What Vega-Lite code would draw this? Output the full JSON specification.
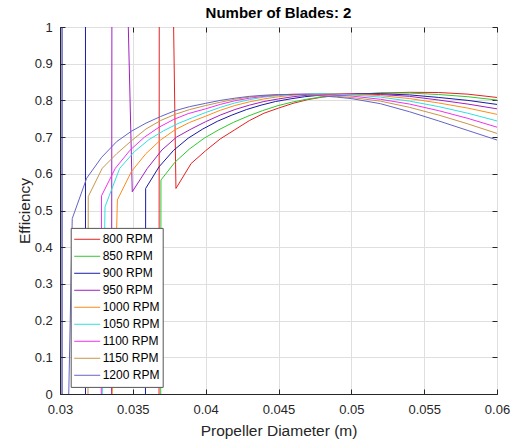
{
"$schema": "https://vega.github.io/schema/vega-lite/v6.json",
"width": 437, "height": 367,
"autosize": {"type": "none"},
"padding": {"left": 60, "top": 27, "right": 20, "bottom": 53},
"background": "white",
"title": {"text": "Number of Blades: 2", "fontSize": 15, "fontWeight": "bold", "font": "Liberation Sans", "color": "#000000", "anchor": "middle", "offset": 0.5},
"config": {"view": {"stroke": "#262626", "strokeWidth": 1}, "font": "Liberation Sans"},
"data": {"values": [
{"rpm":"800 RPM","x":0.0358,"y":-70},{"rpm":"800 RPM","x":0.03685,"y":3.6},{"rpm":"800 RPM","x":0.03796,"y":0.56},{"rpm":"800 RPM","x":0.039,"y":0.628},{"rpm":"800 RPM","x":0.04,"y":0.663},{"rpm":"800 RPM","x":0.041,"y":0.695},{"rpm":"800 RPM","x":0.042,"y":0.72},{"rpm":"800 RPM","x":0.043,"y":0.745},{"rpm":"800 RPM","x":0.044,"y":0.765},{"rpm":"800 RPM","x":0.045,"y":0.779},{"rpm":"800 RPM","x":0.046,"y":0.792},{"rpm":"800 RPM","x":0.047,"y":0.802},{"rpm":"800 RPM","x":0.048,"y":0.809},{"rpm":"800 RPM","x":0.049,"y":0.813},{"rpm":"800 RPM","x":0.05,"y":0.816},{"rpm":"800 RPM","x":0.052,"y":0.82},{"rpm":"800 RPM","x":0.054,"y":0.822},{"rpm":"800 RPM","x":0.056,"y":0.8215},{"rpm":"800 RPM","x":0.058,"y":0.817},{"rpm":"800 RPM","x":0.06,"y":0.808},
{"rpm":"850 RPM","x":0.0359,"y":-40},{"rpm":"850 RPM","x":0.03693,"y":0.583},{"rpm":"850 RPM","x":0.0379,"y":0.632},{"rpm":"850 RPM","x":0.0389,"y":0.668},{"rpm":"850 RPM","x":0.0399,"y":0.697},{"rpm":"850 RPM","x":0.0409,"y":0.72},{"rpm":"850 RPM","x":0.0419,"y":0.74},{"rpm":"850 RPM","x":0.0429,"y":0.757},{"rpm":"850 RPM","x":0.0439,"y":0.772},{"rpm":"850 RPM","x":0.0449,"y":0.785},{"rpm":"850 RPM","x":0.0459,"y":0.795},{"rpm":"850 RPM","x":0.0469,"y":0.803},{"rpm":"850 RPM","x":0.0479,"y":0.809},{"rpm":"850 RPM","x":0.0489,"y":0.813},{"rpm":"850 RPM","x":0.05,"y":0.817},{"rpm":"850 RPM","x":0.052,"y":0.82},{"rpm":"850 RPM","x":0.054,"y":0.82},{"rpm":"850 RPM","x":0.056,"y":0.816},{"rpm":"850 RPM","x":0.058,"y":0.81},{"rpm":"850 RPM","x":0.06,"y":0.801},
{"rpm":"900 RPM","x":0.0301,"y":-50},{"rpm":"900 RPM","x":0.03018,"y":50},{"rpm":"900 RPM","x":0.03171,"y":50},{"rpm":"900 RPM","x":0.03179,"y":-50},{"rpm":"900 RPM","x":0.0349,"y":-40},{"rpm":"900 RPM","x":0.03588,"y":0.56},{"rpm":"900 RPM","x":0.0368,"y":0.619},{"rpm":"900 RPM","x":0.0378,"y":0.664},{"rpm":"900 RPM","x":0.0388,"y":0.697},{"rpm":"900 RPM","x":0.0398,"y":0.722},{"rpm":"900 RPM","x":0.0408,"y":0.743},{"rpm":"900 RPM","x":0.0418,"y":0.76},{"rpm":"900 RPM","x":0.0428,"y":0.775},{"rpm":"900 RPM","x":0.0438,"y":0.787},{"rpm":"900 RPM","x":0.0448,"y":0.797},{"rpm":"900 RPM","x":0.0458,"y":0.804},{"rpm":"900 RPM","x":0.0468,"y":0.81},{"rpm":"900 RPM","x":0.0478,"y":0.814},{"rpm":"900 RPM","x":0.049,"y":0.817},{"rpm":"900 RPM","x":0.05,"y":0.818},{"rpm":"900 RPM","x":0.052,"y":0.818},{"rpm":"900 RPM","x":0.054,"y":0.815},{"rpm":"900 RPM","x":0.056,"y":0.808},{"rpm":"900 RPM","x":0.058,"y":0.8},{"rpm":"900 RPM","x":0.06,"y":0.789},
{"rpm":"950 RPM","x":0.0326,"y":-44},{"rpm":"950 RPM","x":0.0336,"y":2.81},{"rpm":"950 RPM","x":0.03496,"y":0.551},{"rpm":"950 RPM","x":0.036,"y":0.615},{"rpm":"950 RPM","x":0.037,"y":0.665},{"rpm":"950 RPM","x":0.038,"y":0.7},{"rpm":"950 RPM","x":0.039,"y":0.722},{"rpm":"950 RPM","x":0.04,"y":0.742},{"rpm":"950 RPM","x":0.041,"y":0.76},{"rpm":"950 RPM","x":0.042,"y":0.775},{"rpm":"950 RPM","x":0.043,"y":0.787},{"rpm":"950 RPM","x":0.044,"y":0.797},{"rpm":"950 RPM","x":0.045,"y":0.804},{"rpm":"950 RPM","x":0.046,"y":0.81},{"rpm":"950 RPM","x":0.047,"y":0.814},{"rpm":"950 RPM","x":0.048,"y":0.817},{"rpm":"950 RPM","x":0.049,"y":0.818},{"rpm":"950 RPM","x":0.05,"y":0.818},{"rpm":"950 RPM","x":0.052,"y":0.816},{"rpm":"950 RPM","x":0.054,"y":0.811},{"rpm":"950 RPM","x":0.056,"y":0.801},{"rpm":"950 RPM","x":0.058,"y":0.79},{"rpm":"950 RPM","x":0.06,"y":0.777},
{"rpm":"1000 RPM","x":0.0329,"y":-1.03},{"rpm":"1000 RPM","x":0.03394,"y":0.529},{"rpm":"1000 RPM","x":0.0349,"y":0.606},{"rpm":"1000 RPM","x":0.0359,"y":0.655},{"rpm":"1000 RPM","x":0.0369,"y":0.692},{"rpm":"1000 RPM","x":0.0379,"y":0.72},{"rpm":"1000 RPM","x":0.0389,"y":0.74},{"rpm":"1000 RPM","x":0.04,"y":0.757},{"rpm":"1000 RPM","x":0.041,"y":0.773},{"rpm":"1000 RPM","x":0.042,"y":0.786},{"rpm":"1000 RPM","x":0.043,"y":0.796},{"rpm":"1000 RPM","x":0.044,"y":0.804},{"rpm":"1000 RPM","x":0.045,"y":0.81},{"rpm":"1000 RPM","x":0.046,"y":0.814},{"rpm":"1000 RPM","x":0.047,"y":0.817},{"rpm":"1000 RPM","x":0.048,"y":0.818},{"rpm":"1000 RPM","x":0.049,"y":0.818},{"rpm":"1000 RPM","x":0.05,"y":0.817},{"rpm":"1000 RPM","x":0.052,"y":0.813},{"rpm":"1000 RPM","x":0.054,"y":0.805},{"rpm":"1000 RPM","x":0.056,"y":0.793},{"rpm":"1000 RPM","x":0.058,"y":0.779},{"rpm":"1000 RPM","x":0.06,"y":0.762},
{"rpm":"1050 RPM","x":0.0321,"y":-2.2},{"rpm":"1050 RPM","x":0.03309,"y":0.51},{"rpm":"1050 RPM","x":0.0341,"y":0.615},{"rpm":"1050 RPM","x":0.0351,"y":0.66},{"rpm":"1050 RPM","x":0.0361,"y":0.693},{"rpm":"1050 RPM","x":0.0371,"y":0.717},{"rpm":"1050 RPM","x":0.0381,"y":0.737},{"rpm":"1050 RPM","x":0.0391,"y":0.753},{"rpm":"1050 RPM","x":0.04,"y":0.767},{"rpm":"1050 RPM","x":0.041,"y":0.781},{"rpm":"1050 RPM","x":0.042,"y":0.793},{"rpm":"1050 RPM","x":0.043,"y":0.802},{"rpm":"1050 RPM","x":0.044,"y":0.809},{"rpm":"1050 RPM","x":0.045,"y":0.813},{"rpm":"1050 RPM","x":0.046,"y":0.816},{"rpm":"1050 RPM","x":0.047,"y":0.818},{"rpm":"1050 RPM","x":0.048,"y":0.818},{"rpm":"1050 RPM","x":0.049,"y":0.817},{"rpm":"1050 RPM","x":0.05,"y":0.815},{"rpm":"1050 RPM","x":0.052,"y":0.809},{"rpm":"1050 RPM","x":0.054,"y":0.798},{"rpm":"1050 RPM","x":0.056,"y":0.783},{"rpm":"1050 RPM","x":0.058,"y":0.765},{"rpm":"1050 RPM","x":0.06,"y":0.744},
{"rpm":"1100 RPM","x":0.0319,"y":-30},{"rpm":"1100 RPM","x":0.03285,"y":0.54},{"rpm":"1100 RPM","x":0.0338,"y":0.615},{"rpm":"1100 RPM","x":0.0348,"y":0.664},{"rpm":"1100 RPM","x":0.0358,"y":0.7},{"rpm":"1100 RPM","x":0.0368,"y":0.727},{"rpm":"1100 RPM","x":0.0378,"y":0.748},{"rpm":"1100 RPM","x":0.0388,"y":0.764},{"rpm":"1100 RPM","x":0.04,"y":0.777},{"rpm":"1100 RPM","x":0.041,"y":0.789},{"rpm":"1100 RPM","x":0.042,"y":0.799},{"rpm":"1100 RPM","x":0.043,"y":0.806},{"rpm":"1100 RPM","x":0.044,"y":0.811},{"rpm":"1100 RPM","x":0.045,"y":0.815},{"rpm":"1100 RPM","x":0.046,"y":0.817},{"rpm":"1100 RPM","x":0.047,"y":0.817},{"rpm":"1100 RPM","x":0.048,"y":0.816},{"rpm":"1100 RPM","x":0.049,"y":0.814},{"rpm":"1100 RPM","x":0.05,"y":0.812},{"rpm":"1100 RPM","x":0.052,"y":0.803},{"rpm":"1100 RPM","x":0.054,"y":0.79},{"rpm":"1100 RPM","x":0.056,"y":0.772},{"rpm":"1100 RPM","x":0.058,"y":0.751},{"rpm":"1100 RPM","x":0.06,"y":0.727},
{"rpm":"1150 RPM","x":0.0309,"y":-30},{"rpm":"1150 RPM","x":0.03194,"y":0.538},{"rpm":"1150 RPM","x":0.0329,"y":0.615},{"rpm":"1150 RPM","x":0.0339,"y":0.655},{"rpm":"1150 RPM","x":0.0349,"y":0.69},{"rpm":"1150 RPM","x":0.0359,"y":0.722},{"rpm":"1150 RPM","x":0.0369,"y":0.745},{"rpm":"1150 RPM","x":0.0379,"y":0.762},{"rpm":"1150 RPM","x":0.0389,"y":0.775},{"rpm":"1150 RPM","x":0.04,"y":0.786},{"rpm":"1150 RPM","x":0.041,"y":0.795},{"rpm":"1150 RPM","x":0.042,"y":0.803},{"rpm":"1150 RPM","x":0.043,"y":0.809},{"rpm":"1150 RPM","x":0.044,"y":0.813},{"rpm":"1150 RPM","x":0.045,"y":0.815},{"rpm":"1150 RPM","x":0.046,"y":0.816},{"rpm":"1150 RPM","x":0.047,"y":0.816},{"rpm":"1150 RPM","x":0.048,"y":0.814},{"rpm":"1150 RPM","x":0.049,"y":0.811},{"rpm":"1150 RPM","x":0.05,"y":0.808},{"rpm":"1150 RPM","x":0.052,"y":0.798},{"rpm":"1150 RPM","x":0.054,"y":0.781},{"rpm":"1150 RPM","x":0.056,"y":0.76},{"rpm":"1150 RPM","x":0.058,"y":0.736},{"rpm":"1150 RPM","x":0.06,"y":0.71},
{"rpm":"1200 RPM","x":0.0298,"y":-1.6},{"rpm":"1200 RPM","x":0.03084,"y":0.478},{"rpm":"1200 RPM","x":0.03183,"y":0.588},{"rpm":"1200 RPM","x":0.03286,"y":0.645},{"rpm":"1200 RPM","x":0.0339,"y":0.688},{"rpm":"1200 RPM","x":0.0349,"y":0.716},{"rpm":"1200 RPM","x":0.0359,"y":0.738},{"rpm":"1200 RPM","x":0.0369,"y":0.756},{"rpm":"1200 RPM","x":0.0379,"y":0.772},{"rpm":"1200 RPM","x":0.0389,"y":0.783},{"rpm":"1200 RPM","x":0.04,"y":0.792},{"rpm":"1200 RPM","x":0.041,"y":0.8},{"rpm":"1200 RPM","x":0.042,"y":0.806},{"rpm":"1200 RPM","x":0.043,"y":0.811},{"rpm":"1200 RPM","x":0.044,"y":0.814},{"rpm":"1200 RPM","x":0.045,"y":0.816},{"rpm":"1200 RPM","x":0.046,"y":0.816},{"rpm":"1200 RPM","x":0.047,"y":0.815},{"rpm":"1200 RPM","x":0.048,"y":0.812},{"rpm":"1200 RPM","x":0.049,"y":0.809},{"rpm":"1200 RPM","x":0.05,"y":0.805},{"rpm":"1200 RPM","x":0.052,"y":0.791},{"rpm":"1200 RPM","x":0.054,"y":0.769},{"rpm":"1200 RPM","x":0.056,"y":0.744},{"rpm":"1200 RPM","x":0.058,"y":0.718},{"rpm":"1200 RPM","x":0.06,"y":0.692}
]},
"layer": [
{
"mark": {"type": "line", "strokeWidth": 1, "clip": true},
"encoding": {
"x": {"field": "x", "type": "quantitative",
 "scale": {"domain": [0.03, 0.06], "nice": false, "zero": false},
 "axis": {"title": "Propeller Diameter (m)", "values": [0.03, 0.035, 0.04, 0.045, 0.05, 0.055, 0.06], "format": "~g",
  "grid": true, "gridColor": "#dfdfdf", "domainColor": "#262626", "tickColor": "#262626", "tickSize": -5,
  "labelFontSize": 13, "labelColor": "#262626", "labelFont": "Liberation Sans", "labelPadding": 14, "labelFlush": false, "labelOverlap": false,
  "titleFontSize": 15.5, "titleColor": "#262626", "titleFont": "Liberation Sans", "titleFontWeight": "normal", "titleBaseline": "alphabetic", "titleY": 41}},
"y": {"field": "y", "type": "quantitative",
 "scale": {"domain": [0, 1], "nice": false, "zero": false},
 "axis": {"title": "Efficiency", "values": [0, 0.1, 0.2, 0.3, 0.4, 0.5, 0.6, 0.7, 0.8, 0.9, 1], "format": "~g",
  "grid": true, "gridColor": "#dfdfdf", "domainColor": "#262626", "tickColor": "#262626", "tickSize": -5,
  "labelFontSize": 13, "labelColor": "#262626", "labelFont": "Liberation Sans", "labelPadding": 12.7, "labelFlush": false, "labelOverlap": false, "labelBaseline": "middle",
  "titleFontSize": 15.5, "titleColor": "#262626", "titleFont": "Liberation Sans", "titleFontWeight": "normal", "titleBaseline": "alphabetic", "titleX": -31, "titleY": 183.5, "titleAngle": -90}},
"color": {"field": "rpm", "type": "nominal",
 "scale": {"domain": ["800 RPM","850 RPM","900 RPM","950 RPM","1000 RPM","1050 RPM","1100 RPM","1150 RPM","1200 RPM"],
  "range": ["#e62020","#30c830","#1a1aa6","#a020c0","#ff8c1a","#30e0e0","#f030f0","#c8964b","#6464c8"]},
 "legend": {"title": null, "orient": "none", "legendX": 10.7, "legendY": 200.9, "symbolType": "stroke", "symbolSize": 676, "symbolStrokeWidth": 1,
  "labelFontSize": 12, "labelColor": "#000000", "labelFont": "Liberation Sans", "labelOffset": 2, "padding": 3, "rowPadding": 0, "clipHeight": 16.75,
  "fillColor": "white", "strokeColor": "#555555"}}
}
},
{
"mark": {"type": "line", "opacity": 0, "clip": true},
"encoding": {
"x": {"field": "x", "type": "quantitative",
 "scale": {"domain": [0.03, 0.06], "nice": false, "zero": false},
 "axis": {"orient": "top", "title": null, "labels": false, "grid": false, "domain": false, "values": [0.03, 0.035, 0.04, 0.045, 0.05, 0.055, 0.06], "tickColor": "#262626", "tickSize": -5}},
"y": {"field": "y", "type": "quantitative",
 "scale": {"domain": [0, 1], "nice": false, "zero": false},
 "axis": {"orient": "right", "title": null, "labels": false, "grid": false, "domain": false, "values": [0, 0.1, 0.2, 0.3, 0.4, 0.5, 0.6, 0.7, 0.8, 0.9, 1], "tickColor": "#262626", "tickSize": -5}},
"detail": {"field": "rpm", "type": "nominal"}
}
}
],
"resolve": {"axis": {"x": "independent", "y": "independent"}}
}
